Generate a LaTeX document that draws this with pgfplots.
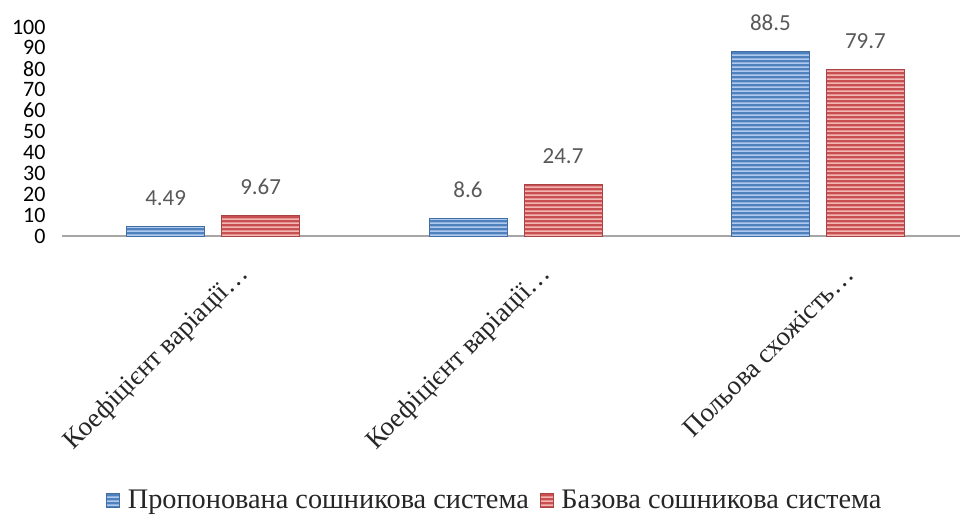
\documentclass[border=0pt]{standalone}
\usepackage{pgfplots}
\pgfplotsset{compat=1.18}
\usepackage{fontspec}
\setmainfont{Liberation Serif}
\newfontfamily\calibri{Carlito}
\usetikzlibrary{patterns}
\pgfdeclarepatternformonly{hstripes}{\pgfpoint{0bp}{0bp}}{\pgfpoint{1200bp}{3.6bp}}{\pgfpoint{1200bp}{3.6bp}}{%
  \pgfpathrectangle{\pgfpoint{0bp}{0bp}}{\pgfpoint{1200bp}{1.7bp}}\pgfusepath{fill}}
\definecolor{cblue}{RGB}{79,129,189}
\definecolor{cbluel}{RGB}{175,202,238}
\definecolor{cred}{RGB}{200,80,80}
\definecolor{credl}{RGB}{242,182,180}
\definecolor{valgray}{RGB}{89,89,89}
\begin{document}
\begin{tikzpicture}
\path[use as bounding box] (-62bp,-284bp) rectangle (898bp,236bp);
\begin{axis}[
  scale only axis,
  width=898bp, height=209bp,
  xmin=-0.5, xmax=2.47,
  ymin=0, ymax=100,
  ytick={0,10,...,100},
  xtick={0,1,2},
  xticklabels={Коефіцієнт варіації…,Коефіцієнт варіації…,Польова схожість…},
  axis x line*=bottom,
  axis y line*=left,
  x axis line style={draw=black!35, line width=2bp, -},
  y axis line style={draw=none},
  major tick length=0pt,
  tick style={draw=none},
  /pgf/number format/assume math mode=true,
  yticklabel style={font=\calibri\fontsize{22bp}{22bp}\selectfont, text=black, xshift=-13bp},
  xticklabel style={font=\rmfamily\fontsize{27bp}{30bp}\selectfont, text=black!85, xshift=34bp, yshift=-32bp, rotate=45, anchor=east},
  ybar=17bp, bar width=78bp,
  nodes near coords,
  every node near coord/.append style={font=\calibri\fontsize{23bp}{23bp}\selectfont, text=valgray, yshift=17bp},
  legend columns=2,
  legend cell align=left,
  legend style={draw=none, at={(rel axis cs:0.482,0)}, anchor=center, yshift=-264bp,
    font=\rmfamily\fontsize{28.3bp}{30bp}\selectfont, text=black!85,
    /tikz/every odd column/.append style={column sep=6bp},
    /tikz/every even column/.append style={column sep=9bp}},
  legend image code/.code={\draw[#1] (0bp,-7bp) rectangle (13bp,7bp);},
]
\addplot+[draw=cblue!85!black, line width=0.6bp, fill=cblue,
  postaction={pattern=hstripes, pattern color=cbluel}]
  coordinates {(0,4.49) (1,8.6) (2,88.5)};
\addplot+[draw=cred!85!black, line width=0.6bp, fill=cred,
  postaction={pattern=hstripes, pattern color=credl}]
  coordinates {(0,9.67) (1,24.7) (2,79.7)};
\legend{Пропонована сошникова система, Базова сошникова система}
\end{axis}
\end{tikzpicture}
\end{document}
